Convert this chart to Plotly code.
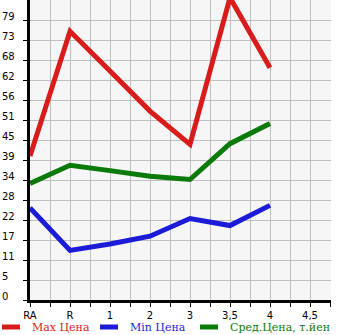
import plotly.graph_objects as go

categories = ["RA", "R", "1", "2", "3", "3,5", "4", "4,5"]
max_price = [40.6, 75.8, 64.6, 53.3, 43.9, 85.3, 65.5]
min_price = [26.0, 14.0, 15.8, 18.0, 23.0, 21.0, 26.7]
avg_price = [32.9, 38.0, 36.5, 34.9, 34.0, 44.1, 49.8]
y_tick_labels = ["0", "5", "11", "17", "22", "28", "34", "39", "45", "51", "56", "62", "68", "73", "79"]
series_names = ["Max Цена", "Min Цена", "Сред.Цена, т.йен"]
series_colors = ["#d81b1b", "#1b1bd8", "#0a7a0a"]

Y_MAX = 84.64
step = Y_MAX / 15
y_tick_vals = [i * step for i in range(len(y_tick_labels))]

# plot area in pixels
L, R, T, B = 30, 331, 0, 300
W, H = 345, 335


def px_x(p):
    return (p - L) / (R - L)


def px_y(p):
    return (B - p) / (B - T)


fig = go.Figure()
for name, vals, col in zip(series_names, [max_price, min_price, avg_price], series_colors):
    fig.add_trace(go.Scatter(
        x=list(range(len(vals))), y=vals, mode="lines", name=name,
        line=dict(color=col, width=5), showlegend=False,
    ))

annotations = []
shapes = []
# y tick labels, left aligned at the left edge of the picture
for v, lab in zip(y_tick_vals, y_tick_labels):
    annotations.append(dict(
        x=px_x(0), xref="paper", y=v, yref="y", text=lab, showarrow=False,
        xanchor="left", yanchor="middle", yshift=3.5,
        font=dict(family="DejaVu Sans", size=10, color="black"),
    ))

# custom legend
legend_starts = [0, 98, 198]
for start, name, col in zip(legend_starts, series_names, series_colors):
    shapes.append(dict(
        type="line", xref="paper", yref="paper",
        x0=px_x(start + 2), x1=px_x(start + 20), y0=px_y(327), y1=px_y(327),
        line=dict(color=col, width=5),
    ))
    annotations.append(dict(
        x=px_x(start + 30), xref="paper", y=px_y(327), yref="paper", text=name,
        showarrow=False, xanchor="left", yanchor="middle",
        font=dict(family="DejaVu Serif", size=11, color=col),
    ))

fig.update_layout(
    width=W, height=H,
    margin=dict(l=L, r=W - R, t=T, b=H - B, autoexpand=False),
    paper_bgcolor="white", plot_bgcolor="#f6f6f6",
    font=dict(family="DejaVu Sans", size=10, color="black"),
    showlegend=False,
    annotations=annotations, shapes=shapes,
)
fig.update_xaxes(
    range=[0, 7.525], tickmode="array", tickvals=list(range(len(categories))), ticktext=categories,
    showgrid=True, gridcolor="#c0c0c0", gridwidth=1,
    showline=True, linecolor="black", linewidth=3,
    ticks="outside", ticklen=4, tickcolor="black",
    minor=dict(tick0=0, dtick=0.5, ticks="outside", ticklen=4, tickcolor="black",
               showgrid=True, gridcolor="#c0c0c0", gridwidth=1),
    zeroline=False, fixedrange=True,
)
fig.update_yaxes(
    range=[0, Y_MAX], tickmode="array", tickvals=y_tick_vals,
    showticklabels=False,
    showgrid=True, gridcolor="#c0c0c0", gridwidth=1,
    showline=True, linecolor="black", linewidth=3,
    ticks="outside", ticklen=4, tickcolor="black",
    zeroline=False, fixedrange=True,
)
fig.write_html("out.html")
